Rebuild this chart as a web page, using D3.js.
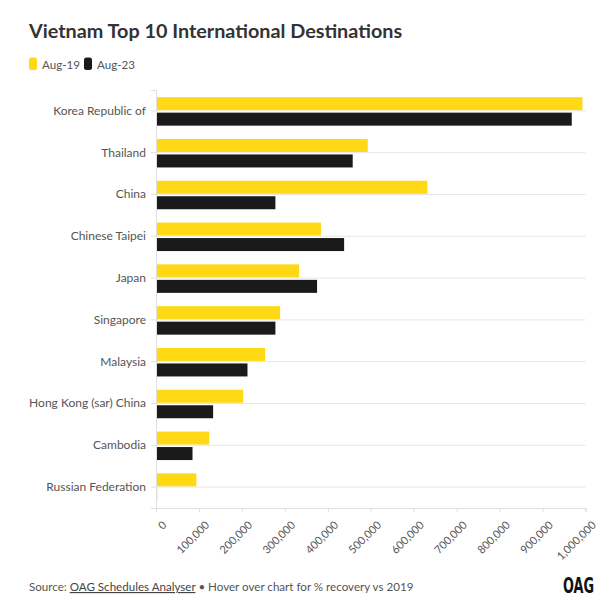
<!DOCTYPE html>
<html><head><meta charset="utf-8">
<script src="https://cdn.jsdelivr.net/npm/d3@7"></script>
<style>
html,body{margin:0;padding:0;background:#fff;}
svg text{font-family:Lato,"Open Sans",sans-serif;}
</style></head>
<body>
<svg id="chart" width="615" height="612"></svg>
<script>
const categories = ["Korea Republic of","Thailand","China","Chinese Taipei","Japan","Singapore","Malaysia","Hong Kong (sar) China","Cambodia","Russian Federation"];
const seriesNames = ["Aug-19","Aug-23"];
const aug19 = [993000,493000,632000,384000,333000,289000,254000,203000,124000,94000];
const aug23 = [968000,458000,278000,438000,375000,278000,213000,133000,85000,2500];
const xTicks = [0,100000,200000,300000,400000,500000,600000,700000,800000,900000,1000000];
const colors = ["#FFD916","#1a1a1a"];

const svg = d3.select("#chart");
const x = d3.scaleLinear().domain([0,1000000]).range([156,585.5]);
const y = d3.scaleBand().domain(categories).range([90,508]);

// title
svg.append("text").attr("x",29).attr("y",38).attr("font-size",19.8).attr("font-weight",700)
  .attr("fill","#333").text("Vietnam Top 10 International Destinations");

// legend
const leg = svg.append("g");
const legX = [29,84];
seriesNames.forEach((s,i)=>{
  leg.append("rect").attr("x",legX[i]).attr("y",57.5).attr("width",8).attr("height",12.5).attr("rx",2.5).attr("fill",colors[i]);
  leg.append("text").attr("x",legX[i]+13).attr("y",68.5).attr("font-size",11.6).attr("fill","#555").text(s);
});

// gridlines at category centers
svg.append("g").selectAll("line").data(categories).join("line")
  .attr("x1",x(0)).attr("x2",x(1000000))
  .attr("y1",d=>y(d)+y.bandwidth()/2).attr("y2",d=>y(d)+y.bandwidth()/2)
  .attr("stroke","#e6e6e6").attr("stroke-width",1);

// bars
const barH = 13, gap = 2.5;
const data = categories.map((c,i)=>({c, v:[aug19[i],aug23[i]]}));
const g = svg.append("g");
data.forEach(d=>{
  const cy = y(d.c)+y.bandwidth()/2;
  d.v.forEach((v,j)=>{
    g.append("rect").attr("x",x(0)).attr("width",Math.max(0,x(v)-x(0)))
      .attr("y", j===0 ? cy-barH-gap/2+0.5 : cy+gap/2+0.5).attr("height",barH)
      .attr("fill",colors[j]);
  });
});

// y axis
const yAxis = svg.append("g").attr("transform",`translate(${x(0)},0)`).call(d3.axisLeft(y).tickSize(5).tickPadding(5));
yAxis.select(".domain").attr("stroke","#e0e0e0");
yAxis.selectAll(".tick line").attr("stroke","#e0e0e0");
yAxis.selectAll(".tick text").attr("font-size",12).attr("fill","#555").attr("font-family","Lato,'Open Sans',sans-serif");

// x axis
const xAxis = svg.append("g").attr("transform",`translate(0,508)`)
  .call(d3.axisBottom(x).tickValues(xTicks).tickFormat(d3.format(",")).tickSize(4));
xAxis.select(".domain").attr("stroke","#e0e0e0");
xAxis.selectAll(".tick line").attr("stroke","#e0e0e0");
xAxis.selectAll(".tick text").attr("font-size",11).attr("fill","#555").attr("font-family","Lato,'Open Sans',sans-serif")
  .attr("text-anchor","end").attr("dy","0.35em").attr("dx",0)
  .attr("transform","translate(3,10) rotate(-45)");

// footer
const ft = svg.append("text").attr("x",29).attr("y",591).attr("font-size",11.6).attr("fill","#555");
ft.append("tspan").text("Source: ");
ft.append("tspan").attr("text-decoration","underline").attr("fill","#444").text("OAG Schedules Analyser");
ft.append("tspan").text(" • Hover over chart for % recovery vs 2019");

svg.append("text").attr("x",594).attr("y",593).attr("text-anchor","end").attr("font-size",22)
  .attr("font-weight",700).attr("fill","#111").style("font-family","'Liberation Sans Narrow','DejaVu Sans Condensed',sans-serif")
  .attr("textLength",31).attr("lengthAdjust","spacingAndGlyphs").text("OAG");
</script>
</body></html>
